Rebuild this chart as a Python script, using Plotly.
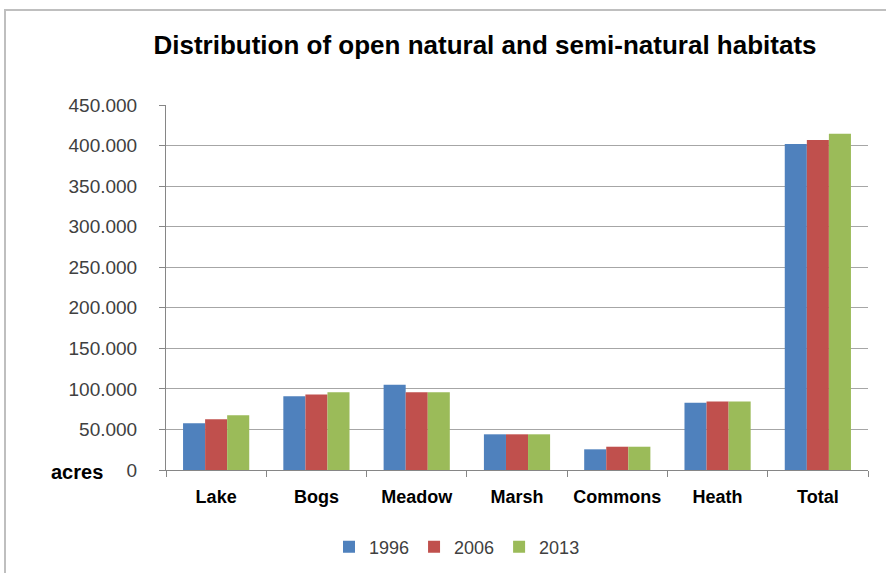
import plotly.graph_objects as go

categories = ["Lake", "Bogs", "Meadow", "Marsh", "Commons", "Heath", "Total"]
years = ["1996", "2006", "2013"]
values_1996 = [57500, 91000, 105000, 44000, 25500, 83000, 402000]
values_2006 = [62500, 93000, 96000, 44000, 28700, 84500, 407000]
values_2013 = [67500, 96000, 96000, 44000, 28700, 84500, 414500]
colors = ["#4F81BD", "#C0504D", "#9BBB59"]
y_ticks = [0, 50000, 100000, 150000, 200000, 250000, 300000, 350000, 400000, 450000]

fig = go.Figure()
for name, vals, col in zip(years, [values_1996, values_2006, values_2013], colors):
    fig.add_trace(go.Bar(x=categories, y=vals, name=name, marker_color=col,
                         marker_line_width=0))

W, H = 886, 573
ml, mr, mt, mb = 166, 18, 105, 103
pw, ph = W - ml - mr, H - mt - mb

def px_x(p):
    return (p - ml) / pw

def px_y(p):
    return (H - mb - p) / ph

fig.update_layout(
    width=W, height=H,
    margin=dict(l=ml, r=mr, t=mt, b=mb, autoexpand=False),
    paper_bgcolor="white", plot_bgcolor="white",
    separators=",.",
    barmode="group", bargap=0.34, bargroupgap=0,
    font=dict(family="Liberation Sans, Arial", color="#000000"),
    title=dict(text="<b>Distribution of open natural and semi-natural habitats</b>",
               x=485 / W, xanchor="center", y=1 - 45 / H, yanchor="middle",
               font=dict(size=26, color="#000000")),
    legend=dict(orientation="h", x=px_x(457), xanchor="center", y=px_y(547),
                yanchor="middle", font=dict(size=18, color="#404040"),
                itemwidth=30, traceorder="normal"),
    xaxis=dict(showline=True, linecolor="#868686", linewidth=1, automargin=False,
               ticks="outside", ticklen=6, tickcolor="#868686", tickson="boundaries",
               tickfont=dict(size=18, color="#000000", family="Liberation Sans, Arial"),
               ticklabelstandoff=10, showgrid=False),
    yaxis=dict(range=[0, 450000], tickvals=y_ticks, tickformat=",d", automargin=False,
               showline=True, linecolor="#868686", linewidth=1,
               ticks="outside", ticklen=6, tickcolor="#868686",
               gridcolor="#A6A6A6", gridwidth=1,
               tickfont=dict(size=19, color="#404040"),
               ticklabelstandoff=18, zeroline=False),
    showlegend=True,
)
fig.update_xaxes(tickprefix="<b>", ticksuffix="</b>")

fig.add_annotation(text="<b>acres</b>", xref="paper", yref="paper",
                   x=px_x(77), y=px_y(472), xanchor="center", yanchor="middle",
                   showarrow=False, font=dict(size=20, color="#000000"))

fig.add_shape(type="rect", xref="paper", yref="paper",
              x0=px_x(5), x1=px_x(W + 10), y0=px_y(H + 10), y1=px_y(10),
              line=dict(color="#BFBFBF", width=2), fillcolor="rgba(0,0,0,0)",
              layer="below")

fig.write_html("out.html", config={"displayModeBar": False},
               post_script="document.body.style.margin='0';document.body.style.padding='0';")
